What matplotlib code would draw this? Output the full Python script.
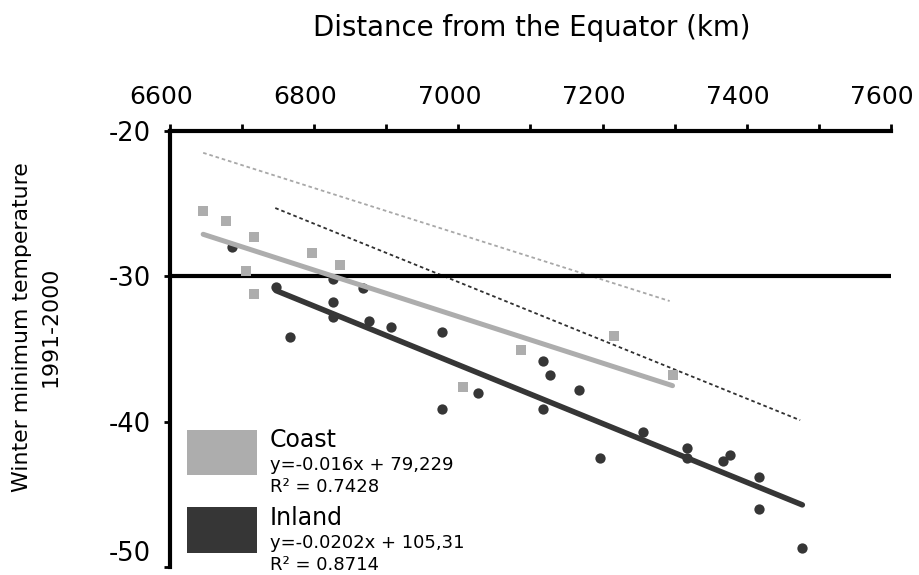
import matplotlib
matplotlib.use("Agg")
import matplotlib.pyplot as plt
from matplotlib.patches import Rectangle
from matplotlib.ticker import MultipleLocator
from matplotlib.transforms import ScaledTranslation
import numpy as np

plt.rcParams['font.family'] = ['DejaVu Sans']

# ---- data ----
coast_km = [6646, 6677, 6717, 6706, 6717, 6797, 6836, 7007, 7087, 7216, 7297]
coast_temp = [-25.5, -26.2, -27.3, -29.6, -31.2, -28.4, -29.2, -37.6, -35.1, -34.1, -36.8]

inland_km = [6686, 6747, 6766, 6826, 6826, 6826, 6867, 6876, 6907, 6977, 6977, 7027,
             7117, 7127, 7167, 7117, 7197, 7256, 7317, 7317, 7367, 7377, 7417, 7417, 7477]
inland_temp = [-28.0, -30.7, -34.2, -30.2, -31.8, -32.8, -30.8, -33.1, -33.5, -33.8, -39.1, -38.0,
               -35.8, -36.8, -37.8, -39.1, -42.5, -40.7, -41.8, -42.5, -42.7, -42.3, -43.8, -46.0, -48.7]

# trend equations as printed in the legend
coast_slope, coast_intercept = -0.016, 79.229
inland_slope, inland_intercept = -0.0202, 105.31
coast_fit_range = [6646, 7297]
inland_fit_range = [6747, 7477]

# dotted guide lines (end points)
coast_guide_km = [6646, 7293]
coast_guide_temp = [-21.5, -31.7]
inland_guide_km = [6746, 7474]
inland_guide_temp = [-25.3, -39.9]

ref_temp = -30
x_major = [6600, 6800, 7000, 7200, 7400, 7600]
y_ticks = [-50, -40, -30, -20]

coast_label = "Coast"
coast_eq = "y=-0.016x + 79,229"
coast_r2 = "R² = 0.7428"
inland_label = "Inland"
inland_eq = "y=-0.0202x + 105,31"
inland_r2 = "R² = 0.8714"

LIGHT = "#adadad"
DARK = "#363636"

W, H = 919, 575
fig = plt.figure(figsize=(W / 100, H / 100), dpi=100)
ax = fig.add_axes([170 / W, 1 - 567 / H, (891 - 170) / W, (567 - 131) / H])
ax.set_xlim(6600, 7600)
ax.set_ylim(-50, -20)

for s in ['bottom', 'right']:
    ax.spines[s].set_visible(False)
for s in ['top', 'left']:
    ax.spines[s].set_linewidth(3)
    ax.spines[s].set_color('black')

ax.xaxis.tick_top()
ax.set_xticks(x_major)
ax.xaxis.set_minor_locator(MultipleLocator(100))
ax.set_yticks(y_ticks)
ax.set_yticklabels([str(v) for v in y_ticks])
ax.tick_params(axis='x', which='both', direction='out', length=5, width=2, pad=11, labelsize=18)
ax.tick_params(axis='y', which='both', direction='out', length=4, width=2, pad=10, labelsize=18.5)

# shift top tick labels slightly left, like the reference
shift = ScaledTranslation(-9 / 100, 0, fig.dpi_scale_trans)
for t in ax.xaxis.get_major_ticks():
    t.label2.set_transform(t.label2.get_transform() + shift)
# lowest y label sits above its tick
ax.get_yticklabels()[0].set_va('bottom')

# dotted guides
ax.plot(coast_guide_km, coast_guide_temp, color="#a8a8a8", lw=1.3, ls=(0, (2, 1.6)), zorder=1)
ax.plot(inland_guide_km, inland_guide_temp, color="#303030", lw=1.3, ls=(0, (2, 1.6)), zorder=1)

# inland points & trend
ax.scatter(inland_km, inland_temp, s=55, marker='o', color=DARK, linewidths=0, zorder=2)
xi = np.array(inland_fit_range, dtype=float)
ax.plot(xi, inland_slope * xi + inland_intercept, color=DARK, lw=4, solid_capstyle='round', zorder=3)

# reference line at -30
ax.axhline(ref_temp, color='black', lw=3, zorder=4)

# coast trend & points
xc = np.array(coast_fit_range, dtype=float)
ax.plot(xc, coast_slope * xc + coast_intercept, color=LIGHT, lw=3.6, solid_capstyle='round', zorder=5)
ax.scatter(coast_km, coast_temp, s=50, marker='s', color=LIGHT, linewidths=0, zorder=6)

# titles
fig.text(532 / W, 1 - 28 / H, "Distance from the Equator (km)", ha='center', va='center', fontsize=19.8)
fig.text(36 / W, 1 - 327 / H, "Winter minimum temperature\n1991-2000", ha='center', va='center',
         rotation=90, fontsize=15.8, multialignment='center', linespacing=1.55)

# legend (manual)
fig.patches.append(Rectangle((187 / W, 1 - 475 / H), 70 / W, 45 / H, transform=fig.transFigure,
                             facecolor=LIGHT, edgecolor='none'))
fig.patches.append(Rectangle((187 / W, 1 - 553 / H), 70 / W, 46 / H, transform=fig.transFigure,
                             facecolor=DARK, edgecolor='none'))
fig.text(270 / W, 1 - 440 / H, coast_label, ha='left', va='center', fontsize=17)
fig.text(270 / W, 1 - 465 / H, coast_eq, ha='left', va='center', fontsize=13)
fig.text(270 / W, 1 - 487 / H, coast_r2, ha='left', va='center', fontsize=13)
fig.text(270 / W, 1 - 518 / H, inland_label, ha='left', va='center', fontsize=17)
fig.text(270 / W, 1 - 543 / H, inland_eq, ha='left', va='center', fontsize=13)
fig.text(270 / W, 1 - 565 / H, inland_r2, ha='left', va='center', fontsize=13)

fig.savefig("out.png", dpi=100, facecolor='white')
